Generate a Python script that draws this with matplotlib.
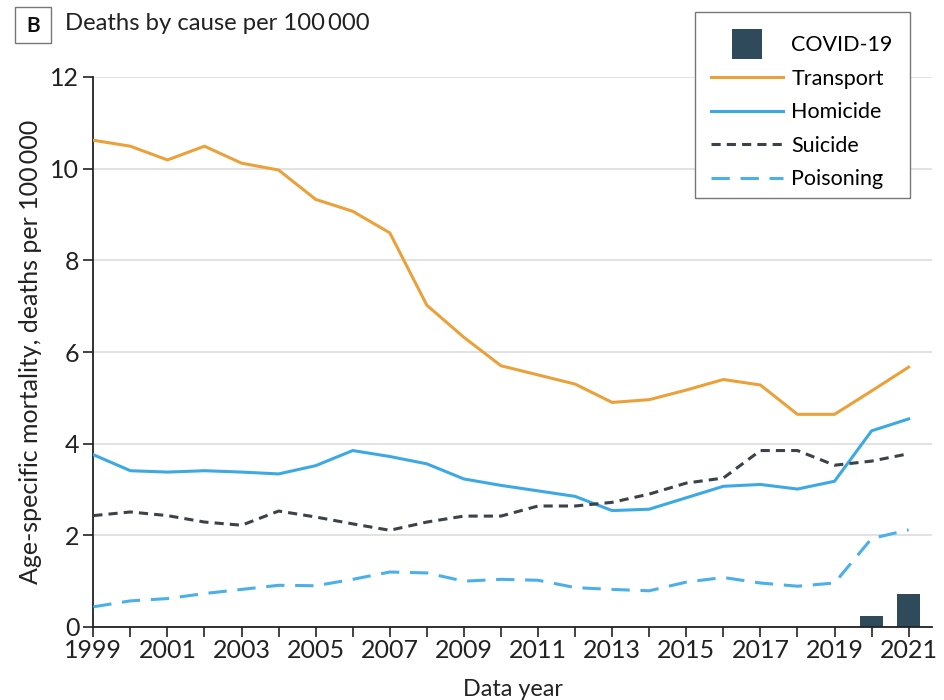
import matplotlib
matplotlib.use("Agg")
import matplotlib.pyplot as plt
from matplotlib.patches import Rectangle
from matplotlib.legend_handler import HandlerPatch
from matplotlib.lines import Line2D
from matplotlib.patches import Patch

plt.rcParams['font.family'] = ['Lato', 'DejaVu Sans']

years = list(range(1999, 2022))
transport = [10.62, 10.49, 10.19, 10.49, 10.12, 9.97, 9.33, 9.07, 8.60, 7.02, 6.32, 5.70,
             5.50, 5.30, 4.90, 4.96, 5.17, 5.40, 5.28, 4.64, 4.64, 5.15, 5.67]
homicide = [3.76, 3.41, 3.38, 3.41, 3.38, 3.34, 3.52, 3.85, 3.72, 3.56, 3.23, 3.09,
            2.97, 2.85, 2.54, 2.57, 2.82, 3.07, 3.11, 3.01, 3.18, 4.28, 4.54]
suicide = [2.43, 2.51, 2.43, 2.29, 2.22, 2.53, 2.40, 2.25, 2.11, 2.29, 2.42, 2.42,
           2.64, 2.64, 2.72, 2.90, 3.14, 3.25, 3.85, 3.85, 3.53, 3.62, 3.78]
poisoning = [0.44, 0.57, 0.62, 0.73, 0.82, 0.91, 0.90, 1.04, 1.20, 1.18, 1.00, 1.04,
             1.02, 0.86, 0.82, 0.79, 0.98, 1.08, 0.96, 0.89, 0.96, 1.93, 2.12]
covid_years = [2020, 2021]
covid = [0.24, 0.71]

c_transport = '#EBA13A'
c_homicide = '#3DA9E3'
c_suicide = '#3B4248'
c_poison = '#4BB0E8'
c_covid = '#2F4B5B'
c_text = '#222222'

W, H = 945, 700
fig = plt.figure(figsize=(W / 100, H / 100), dpi=100)
ax = fig.add_axes([93.3 / W, (H - 627) / H, (932 - 93.3) / W, (627 - 77) / H])

ax.bar(covid_years, covid, width=0.62, color=c_covid, zorder=2)
ax.plot(years, transport, color=c_transport, lw=2.2, zorder=3)
ax.plot(years, homicide, color=c_homicide, lw=2.2, zorder=3)
ax.plot(years, suicide, color=c_suicide, lw=2.2, ls=(0, (3, 2)), zorder=3)
ax.plot(years, poisoning, color=c_poison, lw=2.2, ls=(0, (6, 3.5)), zorder=3)

ax.set_xlim(1999, 2021.63)
ax.set_ylim(0, 12)
ax.set_xticks(years)
ax.set_xticklabels([str(y) if (y - 1999) % 2 == 0 else '' for y in years])
ax.set_yticks(range(0, 13, 2))
ax.yaxis.grid(True, color='#DDDDDD', lw=1.2, zorder=0)
ax.set_axisbelow(True)
for s in ['top', 'right']:
    ax.spines[s].set_visible(False)
for s in ['left', 'bottom']:
    ax.spines[s].set_color(c_text)
    ax.spines[s].set_linewidth(1.3)
ax.tick_params(axis='x', length=7, width=1.2, color=c_text, labelsize=18, pad=2, labelcolor=c_text)
ax.tick_params(axis='y', length=7, width=1.2, color=c_text, labelsize=18, pad=3, labelcolor=c_text)
ax.set_xlabel('Data year', fontsize=16.8, color=c_text, labelpad=12)
ax.set_ylabel('Age-specific mortality, deaths per 100\u2009000', fontsize=18, color=c_text, labelpad=6)

# Panel letter and heading
fig.patches.append(Rectangle((15 / W, 1 - 43 / H), 36 / W, 36 / H,
                             transform=fig.transFigure, fill=False, ec='#777777', lw=1.0))
fig.text(33 / W, 1 - 25.5 / H, 'B', fontsize=15, fontweight='bold', ha='center', va='center', color='#111111')
fig.text(65 / W, 1 - 24 / H, 'Deaths by cause per 100\u2009000', fontsize=17.2, ha='left', va='center', color=c_text)


def square_patch(legend, orig_handle, xdescent, ydescent, width, height, fontsize):
    side = 21.5
    cx = width / 2 - xdescent
    cy = height / 2 - ydescent
    return Rectangle((cx - side / 2, cy - side / 2), side, side)


handles = [
    Patch(facecolor=c_covid, edgecolor='none'),
    Line2D([], [], color=c_transport, lw=2.2),
    Line2D([], [], color=c_homicide, lw=2.2),
    Line2D([], [], color=c_suicide, lw=2.2, ls=(0, (3, 2))),
    Line2D([], [], color=c_poison, lw=2.2, ls=(0, (6, 3.5))),
]
labels = ['COVID-19', 'Transport', 'Homicide', 'Suicide', 'Poisoning']

# Legend frame drawn separately so the entries can sit a little lower inside it
fig.patches.append(Rectangle((695 / W, 1 - 198 / H), (910 - 695) / W, (198 - 12) / H,
                             transform=fig.transFigure, fill=True, fc='white', ec='#777777',
                             lw=1.0, zorder=4))
leg = fig.legend(handles, labels, loc='upper right', bbox_to_anchor=(910 / W, 1 - 18 / H),
                 bbox_transform=fig.transFigure, fontsize=15.5, frameon=False,
                 handlelength=3.35, handleheight=0.7,
                 handletextpad=0.37, labelspacing=0.63, borderpad=0.8, borderaxespad=0,
                 handler_map={Patch: HandlerPatch(patch_func=square_patch)})
leg.set_zorder(5)

fig.savefig('out.png', dpi=100)
